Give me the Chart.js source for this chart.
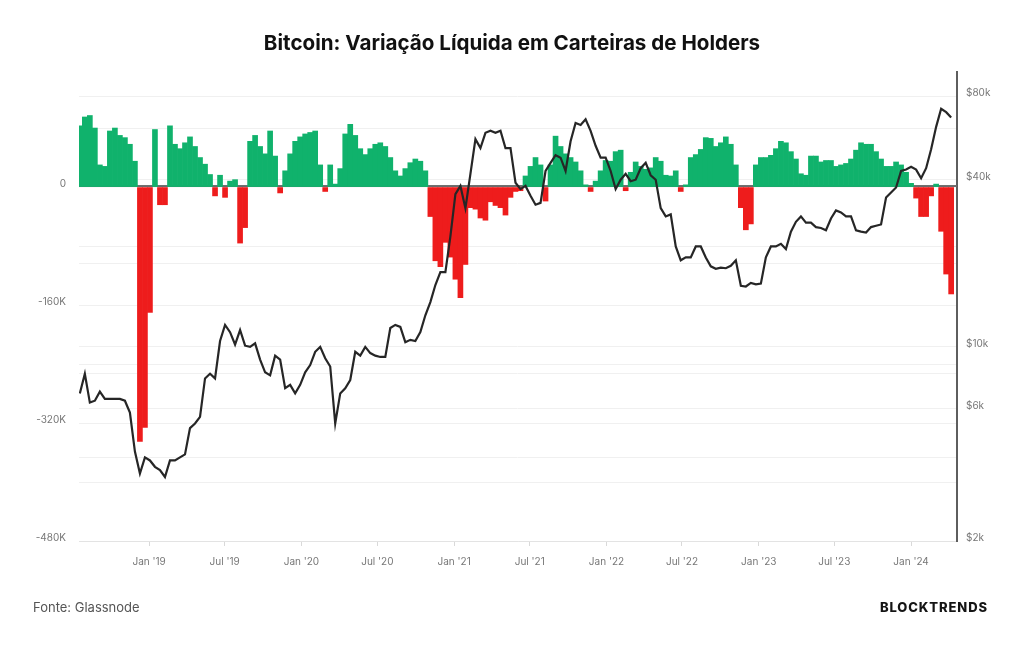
<!DOCTYPE html>
<html lang="pt-BR">
<head>
<meta charset="utf-8">
<title>Bitcoin: Variação Líquida em Carteiras de Holders</title>
<script src="https://cdn.jsdelivr.net/npm/chart.js@4.4.1/dist/chart.umd.min.js"></script>
<style>
  html, body { margin: 0; padding: 0; background: #fff; }
  body { width: 1024px; height: 645px; position: relative; overflow: hidden; font-family: Inter, "Noto Sans", sans-serif; }
  canvas { position: absolute; left: 0; top: 0; }
  #titulo { position: absolute; top: 31px; left: 0; width: 1024px; line-height: 24px; text-align: center; font-size: 20.6px; font-weight: 700; color: #111; }
  #fonte { position: absolute; left: 33px; top: 599px; line-height: 16px; font-size: 13px; color: #555; }
  #marca { position: absolute; right: 36px; top: 599px; line-height: 16px; font-size: 13px; font-weight: 800; letter-spacing: 0.9px; color: #151515; }
</style>
</head>
<body>
<canvas id="grafico" width="1024" height="645"></canvas>
<div id="titulo">Bitcoin: Variação Líquida em Carteiras de Holders</div>
<div id="fonte">Fonte: Glassnode</div>
<div id="marca">BLOCKTRENDS</div>
<script>
// datas das amostras (a cada 12 dias)
const datas = [
  '2018-07-19','2018-07-31','2018-08-12','2018-08-24','2018-09-05','2018-09-17','2018-09-29','2018-10-11','2018-10-23','2018-11-04',
  '2018-11-16','2018-11-28','2018-12-10','2018-12-22','2019-01-03','2019-01-15','2019-01-27','2019-02-08','2019-02-20','2019-03-04',
  '2019-03-16','2019-03-28','2019-04-09','2019-04-21','2019-05-03','2019-05-15','2019-05-27','2019-06-08','2019-06-20','2019-07-02',
  '2019-07-14','2019-07-26','2019-08-07','2019-08-19','2019-08-31','2019-09-12','2019-09-24','2019-10-06','2019-10-18','2019-10-30',
  '2019-11-11','2019-11-23','2019-12-05','2019-12-17','2019-12-29','2020-01-10','2020-01-22','2020-02-03','2020-02-15','2020-02-27',
  '2020-03-10','2020-03-22','2020-04-03','2020-04-15','2020-04-27','2020-05-09','2020-05-21','2020-06-02','2020-06-14','2020-06-26',
  '2020-07-08','2020-07-20','2020-08-01','2020-08-13','2020-08-25','2020-09-06','2020-09-18','2020-09-30','2020-10-12','2020-10-24',
  '2020-11-05','2020-11-17','2020-11-29','2020-12-11','2020-12-23','2021-01-04','2021-01-16','2021-01-28','2021-02-09','2021-02-21',
  '2021-03-05','2021-03-17','2021-03-29','2021-04-10','2021-04-22','2021-05-04','2021-05-16','2021-05-28','2021-06-09','2021-06-21',
  '2021-07-03','2021-07-15','2021-07-27','2021-08-08','2021-08-20','2021-09-01','2021-09-13','2021-09-25','2021-10-07','2021-10-19',
  '2021-10-31','2021-11-12','2021-11-24','2021-12-06','2021-12-18','2021-12-30','2022-01-11','2022-01-23','2022-02-04','2022-02-16',
  '2022-02-28','2022-03-12','2022-03-24','2022-04-05','2022-04-17','2022-04-29','2022-05-11','2022-05-23','2022-06-04','2022-06-16',
  '2022-06-28','2022-07-10','2022-07-22','2022-08-03','2022-08-15','2022-08-27','2022-09-08','2022-09-20','2022-10-02','2022-10-14',
  '2022-10-26','2022-11-07','2022-11-19','2022-12-01','2022-12-13','2022-12-25','2023-01-06','2023-01-18','2023-01-30','2023-02-11',
  '2023-02-23','2023-03-07','2023-03-19','2023-03-31','2023-04-12','2023-04-24','2023-05-06','2023-05-18','2023-05-30','2023-06-11',
  '2023-06-23','2023-07-05','2023-07-17','2023-07-29','2023-08-10','2023-08-22','2023-09-03','2023-09-15','2023-09-27','2023-10-09',
  '2023-10-21','2023-11-02','2023-11-14','2023-11-26','2023-12-08','2023-12-20','2024-01-01','2024-01-13','2024-01-25','2024-02-06',
  '2024-02-18','2024-03-01','2024-03-13','2024-03-25','2024-04-06'
];

// variação líquida da posição dos holders (mil BTC)
const variacaoLiquida = [
  83, 95, 97, 80, 30, 28, 76, 80, 70, 67,
  58, 35, -345, -326, -170, 78, -24, -24, 83, 58,
  52, 60, 68, 55, 40, 31, 17, -12, 16, -14,
  8, 10, -76, -55, 62, 70, 55, 45, 76, 42,
  -8, 22, 45, 62, 68, 72, 74, 76, 30, -6,
  30, 4, 25, 72, 85, 70, 52, 44, 52, 58,
  60, 55, 40, 22, 15, 25, 33, 38, 35, 22,
  -40, -100, -108, -75, -95, -125, -150, -105, -28, -30,
  -42, -45, -20, -25, -28, -38, -14, -6, -5, 15,
  28, 40, 30, -19, 30, 69, 55, 45, 40, 34,
  22, 3, -6, 8, 22, 36, 35, 48, 50, -5,
  20, 34, 28, 24, 26, 40, 35, 16, 15, 22,
  -6, 3, 40, 44, 51, 67, 66, 55, 60, 68,
  58, 30, -28, -58, -50, 30, 40, 40, 43, 52,
  62, 60, 48, 38, 18, 16, 42, 42, 34, 36,
  36, 28, 30, 32, 38, 50, 60, 58, 58, 48,
  38, 28, 28, 34, 30, 20, 5, -15, -40, -40,
  -12, 4, -60, -118, -145
];

// preço do BTC (mil USD)
const precoBTC = [
  6.8, 8.0, 6.3, 6.4, 6.9, 6.5, 6.5, 6.5, 6.5, 6.4,
  5.8, 4.2, 3.5, 4.0, 3.9, 3.7, 3.6, 3.4, 3.9, 3.9,
  4.0, 4.1, 5.1, 5.3, 5.6, 7.7, 8.0, 7.7, 10.5, 12.0,
  11.3, 10.2, 11.5, 10.1, 10.0, 10.3, 9.0, 8.1, 7.9, 9.3,
  9.0, 7.1, 7.3, 6.8, 7.3, 8.1, 8.6, 9.6, 10.0, 9.1,
  8.5, 5.3, 6.8, 7.1, 7.6, 9.6, 9.3, 10.0, 9.5, 9.3,
  9.2, 9.2, 11.7, 12.0, 11.8, 10.4, 10.6, 10.5, 11.3, 13.0,
  14.5, 16.7, 18.6, 18.6, 25, 35.5, 38, 31.6, 42, 56,
  52, 59, 60, 59, 60, 52, 52, 39, 37, 38,
  35, 32.5, 33, 43, 46, 49, 48, 43, 55, 64,
  63, 66, 60, 53, 48, 48, 43, 37, 40, 42,
  39.5, 40, 44, 46, 41.5, 40, 31.6, 29.5, 30, 23,
  20.5, 21, 21, 23, 23, 21, 19.5, 19.1, 19.3, 19.2,
  19.6, 20.5, 16.6, 16.5, 17, 16.8, 16.9, 21, 23, 23,
  23.5, 22.5, 26, 28.2, 29.5, 28, 28, 27, 26.8, 26.3,
  29, 31, 30.5, 29.5, 29.5, 26.3, 26, 25.8, 27, 27.3,
  27.6, 34.5, 36, 37.5, 43, 43.5, 44.5, 43.5, 40.5, 44,
  51.5, 62, 72, 70, 67
];

const marcosX = ['2019-01-01','2019-07-01','2020-01-01','2020-07-01','2021-01-01','2021-07-01',
                 '2022-01-01','2022-07-01','2023-01-01','2023-07-01','2024-01-01'];
const ticksEsquerda = [80, 0, -80, -160, -240, -320, -400, -480];
const rotulosEsquerda = [0, -160, -320, -480];
const ticksDireita = [2, 4, 6, 8, 10, 20, 40, 80];
const rotulosDireita = [2, 6, 10, 40, 80];

const verde = '#10b26c';
const vermelho = '#ee1c1c';

const xs = datas.map(d => Date.parse(d));

// linha do zero logo acima da base, para as barras verdes a cobrirem
const linhaZero = {
  id: 'linhaZero',
  beforeDatasetsDraw(chart) {
    const { ctx, chartArea } = chart;
    const y0 = chart.scales.y.getPixelForValue(0);
    ctx.save();
    ctx.fillStyle = '#6b6b6b';
    ctx.fillRect(chartArea.left, y0 - 2, chartArea.right - chartArea.left, 2);
    ctx.restore();
  }
};

Chart.defaults.font.family = 'Inter, "Noto Sans", sans-serif';

const config = {
  type: 'bar',
  data: {
    datasets: [{
      type: 'line',
      label: 'Preço BTC',
      data: xs.map((x, i) => ({ x: x, y: precoBTC[i] })),
      yAxisID: 'y1',
      borderColor: '#262626',
      borderWidth: 2.2,
      pointRadius: 0,
      tension: 0,
      order: 1
    }, {
      type: 'bar',
      label: 'Variação líquida',
      data: xs.map((x, i) => ({ x: x, y: variacaoLiquida[i] })),
      yAxisID: 'y',
      backgroundColor: variacaoLiquida.map(v => v >= 0 ? verde : vermelho),
      borderWidth: 0,
      barPercentage: 1,
      categoryPercentage: 1,
      order: 2
    }]
  },
  options: {
    responsive: false,
    animation: false,
    layout: { padding: { top: 72, bottom: 64, left: 0, right: 0 } },
    plugins: {
      legend: { display: false },
      tooltip: { enabled: false }
    },
    scales: {
      x: {
        type: 'linear',
        min: Date.UTC(2018, 6, 17),
        max: Date.UTC(2024, 3, 20),
        offset: false,
        afterBuildTicks: s => { s.ticks = marcosX.map(d => ({ value: Date.parse(d) })); },
        afterFit: s => { s.height = 40; },
        grid: { offset: false, drawOnChartArea: false, drawTicks: true, tickLength: 5, color: '#d9d9d9' },
        border: { display: true, color: '#e3e3e3' },
        ticks: {
          color: '#777', font: { size: 10 }, padding: 10, maxRotation: 0, autoSkip: false,
          callback: v => {
            const d = new Date(v);
            return (d.getUTCMonth() === 0 ? 'Jan' : 'Jul') + " '" + String(d.getUTCFullYear()).slice(2);
          }
        }
      },
      y: {
        position: 'left',
        min: -480,
        max: 156,
        afterBuildTicks: s => { s.ticks = ticksEsquerda.map(v => ({ value: v })); },
        afterFit: s => { s.width = 79; },
        grid: {
          drawTicks: false,
          color: c => (c.tick && c.tick.value === 0) ? 'rgba(0,0,0,0)' : '#f0f0f0'
        },
        border: { display: false },
        ticks: {
          color: '#777', font: { size: 10 }, padding: 13, labelOffset: -3,
          callback: v => rotulosEsquerda.includes(v) ? (v === 0 ? '0' : v + 'K') : ''
        }
      },
      y1: {
        type: 'logarithmic',
        position: 'right',
        min: 2,
        max: 97.7,
        afterBuildTicks: s => { s.ticks = ticksDireita.map(v => ({ value: v })); },
        afterFit: s => { s.width = 67; },
        grid: { drawTicks: false, color: '#f0f0f0' },
        border: { display: true, color: '#5e5e5e', width: 2 },
        ticks: {
          color: '#777', font: { size: 10 }, padding: 9, labelOffset: -3,
          callback: v => rotulosDireita.includes(v) ? '$' + v + 'k' : ''
        }
      }
    }
  },
  plugins: [linhaZero]
};

window.onload = function() {
  const ctx = document.getElementById('grafico').getContext('2d');
  new Chart(ctx, config);
};
</script>
</body>
</html>
